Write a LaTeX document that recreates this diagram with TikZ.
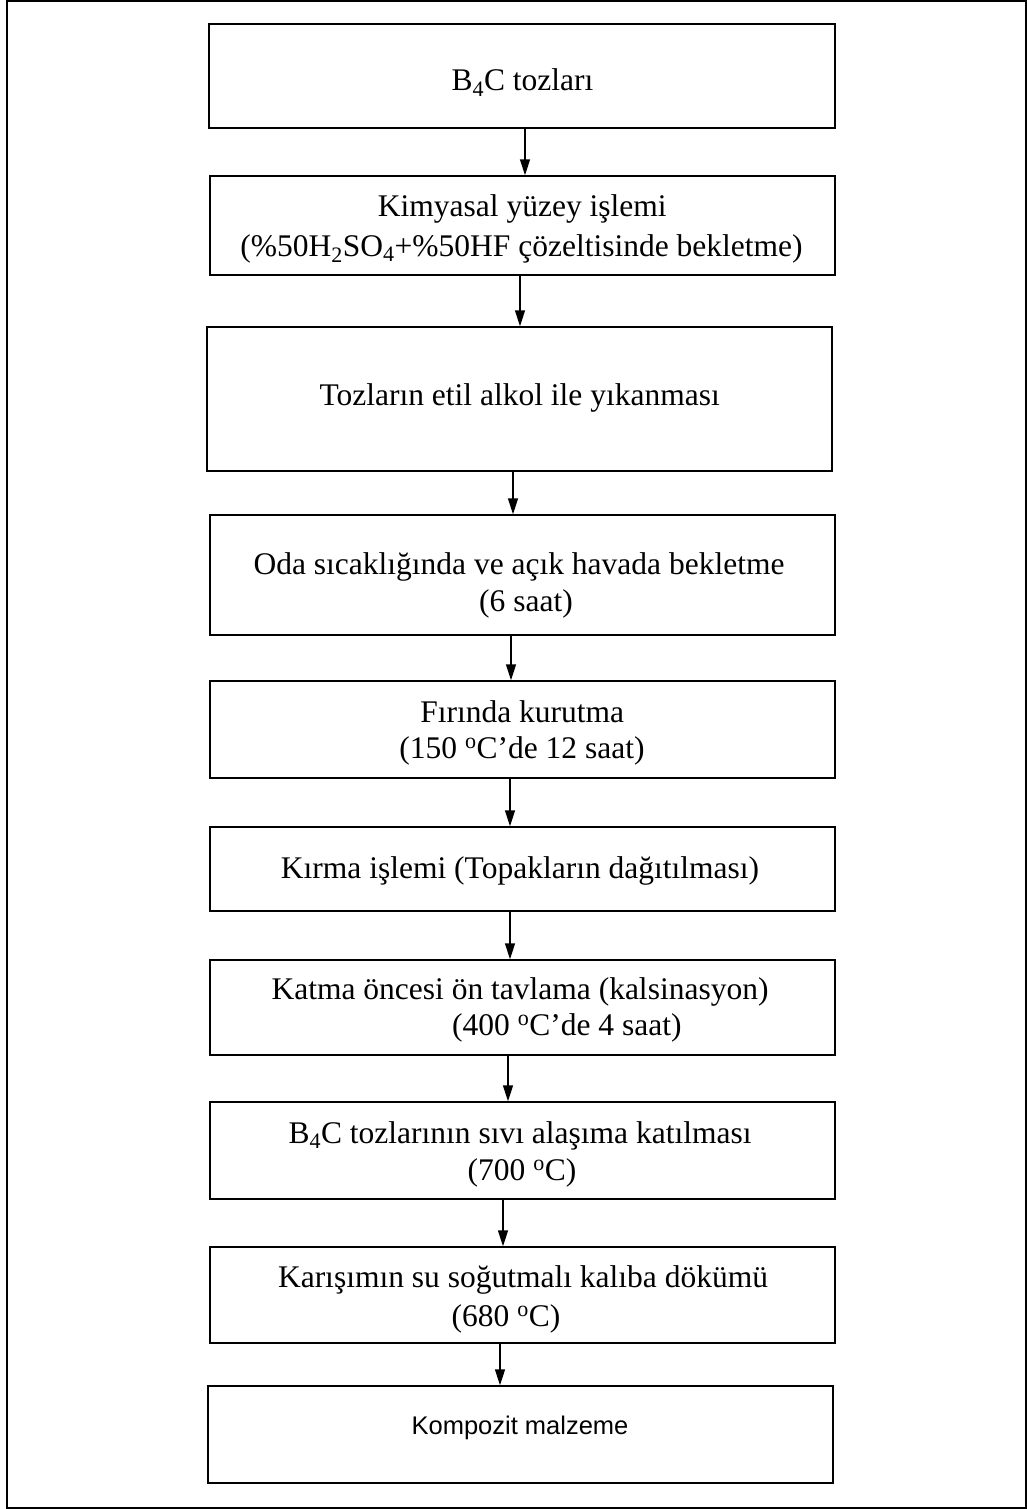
\documentclass[tikz,border=0pt]{standalone}
\usepackage{fontspec}
\setmainfont{Liberation Serif}
\newfontfamily\sansfont{Liberation Sans}
\usetikzlibrary{arrows.meta}

\tikzset{
  stepbox/.style={draw=black, line width=1.5pt, inner sep=0pt},
  lbl/.style={inner sep=0pt, anchor=base, font=\fontsize{31.5}{36}\selectfont},
  lblw/.style={lbl, anchor=base west},
  lblsans/.style={inner sep=0pt, anchor=base, font=\sansfont\fontsize{25.5}{30}\selectfont},
  flow/.style={-{Triangle[length=16pt,width=10pt]}, line width=1.5pt},
  frame/.style={line width=1.5pt, draw=black}
}

\begin{document}
\begin{tikzpicture}[x=1pt,y=-1pt]
\useasboundingbox (0,0) rectangle (1027,1509);

% outer frame
\draw[frame] (7,0.8) rectangle (1026,1507.8);

% process steps
\node[stepbox, minimum width=626pt, minimum height=104pt] (b1)  at (522,76)      {};
\node[stepbox, minimum width=625pt, minimum height=99pt]  (b2)  at (522.5,225.5) {};
\node[stepbox, minimum width=625pt, minimum height=144pt] (b3)  at (519.5,399)   {};
\node[stepbox, minimum width=625pt, minimum height=120pt] (b4)  at (522.5,575)   {};
\node[stepbox, minimum width=625pt, minimum height=97pt]  (b5)  at (522.5,729.5) {};
\node[stepbox, minimum width=625pt, minimum height=84pt]  (b6)  at (522.5,869)   {};
\node[stepbox, minimum width=625pt, minimum height=95pt]  (b7)  at (522.5,1007.5){};
\node[stepbox, minimum width=625pt, minimum height=97pt]  (b8)  at (522.5,1150.5){};
\node[stepbox, minimum width=625pt, minimum height=96pt]  (b9)  at (522.5,1295)  {};
\node[stepbox, minimum width=625pt, minimum height=97pt]  (b10) at (520.5,1434.5){};

% step texts
\node[lbl] (t1)  at (522.5,91)  {B\textsubscript{4}C tozları};
\node[lbl] (t2a) at (522.3,216) {Kimyasal yüzey işlemi};
\node[lbl] (t2b) at (521.5,256) {(\%50H\textsubscript{2}SO\textsubscript{4}+\%50HF çözeltisinde bekletme)};
\node[lbl] (t3)  at (519.6,405) {Tozların etil alkol ile yıkanması};
\node[lbl] (t4a) at (519,574)   {Oda sıcaklığında ve açık havada bekletme};
\node[lbl] (t4b) at (526,611)   {(6 saat)};
\node[lbl] (t5a) at (522.2,722) {Fırında kurutma};
\node[lbl] (t5b) at (522,758)   {(150 \textsuperscript{o}C’de 12 saat)};
\node[lbl] (t6)  at (520,878)   {Kırma işlemi (Topakların dağıtılması)};
\node[lbl] (t7a) at (520,999)   {Katma öncesi ön tavlama (kalsinasyon)};
\node[lblw] (t7b) at (452,1035) {(400 \textsuperscript{o}C’de 4 saat)};
\node[lbl] (t8a) at (520,1143)  {B\textsubscript{4}C tozlarının sıvı alaşıma katılması};
\node[lbl] (t8b) at (522,1180)  {(700 \textsuperscript{o}C)};
\node[lbl] (t9a) at (523,1287)  {Karışımın su soğutmalı kalıba dökümü};
\node[lbl] (t9b) at (506,1326)  {(680 \textsuperscript{o}C)};
\node[lblsans] (t10) at (520,1434) {Kompozit malzeme};

% connectors
\draw[flow] ([xshift=3pt]b1.south)     -- ([xshift=3pt]b1.south |- b2.north);
\draw[flow] ([xshift=-2.5pt]b2.south)  -- ([xshift=-2.5pt]b2.south |- b3.north);
\draw[flow] ([xshift=-6.5pt]b3.south)  -- ([xshift=-6.5pt]b3.south |- b4.north);
\draw[flow] ([xshift=-11.5pt]b4.south) -- ([xshift=-11.5pt]b4.south |- b5.north);
\draw[flow] ([xshift=-12.5pt]b5.south) -- ([xshift=-12.5pt]b5.south |- b6.north);
\draw[flow] ([xshift=-12.5pt]b6.south) -- ([xshift=-12.5pt]b6.south |- b7.north);
\draw[flow] ([xshift=-14.5pt]b7.south) -- ([xshift=-14.5pt]b7.south |- b8.north);
\draw[flow] ([xshift=-19.5pt]b8.south) -- ([xshift=-19.5pt]b8.south |- b9.north);
\draw[flow] ([xshift=-22.5pt]b9.south) -- ([xshift=-22.5pt]b9.south |- b10.north);
\end{tikzpicture}
\end{document}
